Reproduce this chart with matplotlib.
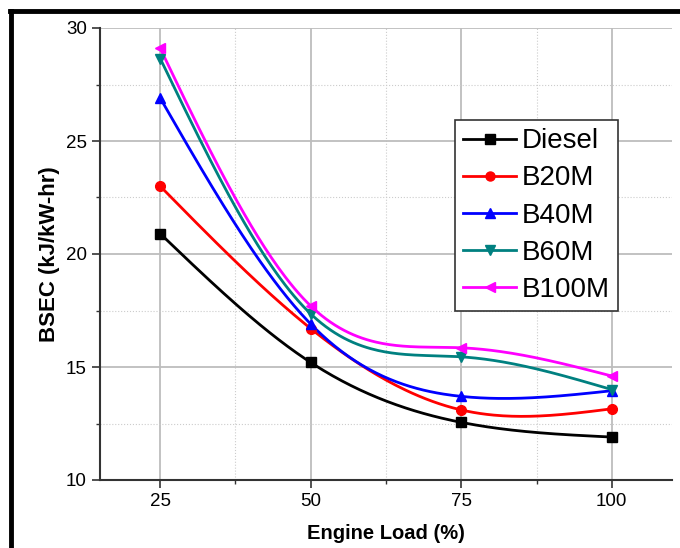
import numpy as np
import matplotlib
matplotlib.use("Agg")
import matplotlib.pyplot as plt
from matplotlib.ticker import MultipleLocator
from matplotlib.lines import Line2D

plt.rcParams['font.family'] = ['Liberation Sans', 'DejaVu Sans']

load = [25, 50, 75, 100]
diesel = [20.9, 15.2, 12.55, 11.9]
b20m = [23.0, 16.7, 13.1, 13.15]
b40m = [26.9, 16.9, 13.7, 13.95]
b60m = [28.65, 17.35, 15.45, 14.0]
b100m = [29.1, 17.7, 15.85, 14.6]

series = [
    ("Diesel", diesel, "black", "s"),
    ("B20M", b20m, "red", "o"),
    ("B40M", b40m, "blue", "^"),
    ("B60M", b60m, "#008080", "v"),
    ("B100M", b100m, "magenta", "<"),
]


def natural_spline(x, y, n=200):
    x = np.asarray(x, float)
    y = np.asarray(y, float)
    m = len(x)
    h = np.diff(x)
    A = np.zeros((m, m))
    b = np.zeros(m)
    A[0, 0] = 1
    A[-1, -1] = 1
    for i in range(1, m - 1):
        A[i, i - 1] = h[i - 1]
        A[i, i] = 2 * (h[i - 1] + h[i])
        A[i, i + 1] = h[i]
        b[i] = 6 * ((y[i + 1] - y[i]) / h[i] - (y[i] - y[i - 1]) / h[i - 1])
    M = np.linalg.solve(A, b)
    xs = np.linspace(x[0], x[-1], n)
    ys = np.empty_like(xs)
    for k, xv in enumerate(xs):
        i = min(np.searchsorted(x, xv, side='right') - 1, m - 2)
        t1 = x[i + 1] - xv
        t0 = xv - x[i]
        ys[k] = (M[i] * t1 ** 3 / (6 * h[i]) + M[i + 1] * t0 ** 3 / (6 * h[i])
                 + (y[i] / h[i] - M[i] * h[i] / 6) * t1
                 + (y[i + 1] / h[i] - M[i + 1] * h[i] / 6) * t0)
    return xs, ys


fig = plt.figure(figsize=(6.8, 5.48), dpi=100)
ax = fig.add_axes([100 / 680, 1 - 480 / 548, 572 / 680, 452 / 548])

handles = []
for name, vals, col, mk in series:
    xs, ys = natural_spline(load, vals)
    ax.plot(xs, ys, color=col, lw=2, zorder=3)
    ax.plot(load, vals, linestyle='none', marker=mk, color=col, ms=7, zorder=4)
    handles.append(Line2D([0], [0], color=col, lw=2, marker=mk, ms=6.5))

ax.set_xlim(15, 110)
ax.set_ylim(10, 30)
ax.xaxis.set_major_locator(MultipleLocator(25))
ax.xaxis.set_minor_locator(MultipleLocator(12.5))
ax.yaxis.set_major_locator(MultipleLocator(5))
ax.yaxis.set_minor_locator(MultipleLocator(2.5))
ax.grid(which='major', color='#bdbdbd', lw=1.3, ls='-')
ax.grid(which='minor', color='#cccccc', lw=0.8, ls=':')
ax.set_axisbelow(True)
for s in ['top', 'right']:
    ax.spines[s].set_visible(False)
for s in ['left', 'bottom']:
    ax.spines[s].set_color('#333333')
    ax.spines[s].set_linewidth(1.5)
ax.tick_params(which='major', direction='out', length=6, width=1.2, labelsize=13.5, color='#333333')
ax.tick_params(which='minor', direction='out', length=3, width=1, color='#333333')
ax.set_xticks([25, 50, 75, 100])
ax.set_xlabel("Engine Load (%)", fontsize=14.5, fontweight='bold', labelpad=10)
ax.set_ylabel("BSEC (kJ/kW-hr)", fontsize=16, fontweight='bold', labelpad=4)

leg = ax.legend(handles, [s[0] for s in series], loc='upper left',
                bbox_to_anchor=((455 - 100) / 572, (480 - 120) / 452),
                fontsize=20, frameon=True, fancybox=False, framealpha=1,
                edgecolor='#333333', borderpad=0.3, labelspacing=0.4,
                handlelength=1.9, handletextpad=0.2, borderaxespad=0)
leg.get_frame().set_linewidth(1.2)

# figure border (top and left)
fig.add_artist(Line2D([9.5 / 680, 1.0], [1 - 11 / 548, 1 - 11 / 548], color='black', lw=3.5,
                      transform=fig.transFigure))
fig.add_artist(Line2D([10.5 / 680, 10.5 / 680], [0, 1 - 11 / 548], color='black', lw=3.5,
                      transform=fig.transFigure))

fig.savefig("out.png", dpi=100)
